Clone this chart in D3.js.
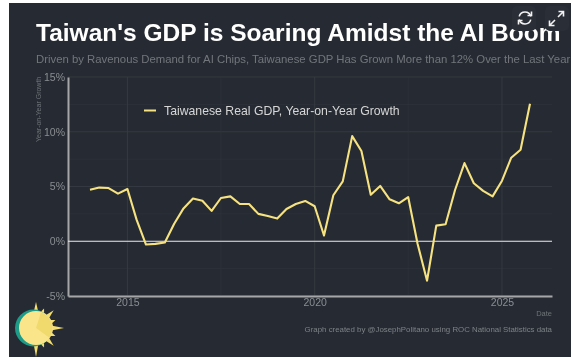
<!DOCTYPE html>
<html>
<head>
<meta charset="utf-8">
<script src="https://cdn.jsdelivr.net/npm/d3@7"></script>
<style>
html, body { margin: 0; padding: 0; background: #fff; overflow: hidden; }
svg { display: block; font-family: "Liberation Sans", Arial, sans-serif; }
svg text { filter: blur(0.3px); }
</style>
</head>
<body>
<div id="chart"></div>
<script>
const titleText = "Taiwan's GDP is Soaring Amidst the AI Boom";
const subtitleText = "Driven by Ravenous Demand for AI Chips, Taiwanese GDP Has Grown More than 12% Over the Last Year";
const seriesName = "Taiwanese Real GDP, Year-on-Year Growth";
const captionText = "Graph created by @JosephPolitano using ROC National Statistics data";

// one value per quarter, first quarter of 2014 onward
const gdpGrowth = [
    4.7, 4.9, 4.86, 4.35, 4.77, 1.95, -0.3, -0.24,
    -0.12, 1.6, 3.0, 3.9, 3.7, 2.77, 3.95, 4.1,
    3.4, 3.4, 2.5, 2.3, 2.07, 2.95, 3.4, 3.68,
    3.2, 0.52, 4.2, 5.47, 9.6, 8.24, 4.25, 5.05,
    3.83, 3.47, 4.04, -0.25, -3.6, 1.43, 1.55, 4.68,
    7.14, 5.3, 4.6, 4.1, 5.53, 7.63, 8.36, 12.55
];
const quarters = d3.utcMonth.range(new Date(Date.UTC(2014, 0, 1)), new Date(Date.UTC(2026, 0, 1)), 3);
const data = quarters.map((d, i) => ({ date: d, value: gdpGrowth[i] }));

const yMajor = [-5, 0, 5, 10, 15];
const yMinor = [-2.5, 2.5, 7.5, 12.5];
const xMajorYears = [2015, 2020, 2025];
const xMinorYears = [2017.5, 2022.5];

const width = 579, height = 361;
const panel = { left: 9, top: 3, right: 571, bottom: 357 };
const plot = { left: 68, top: 77, right: 552, bottom: 296 };

const bg = "#262b33";
const lineColor = "#f6e280";
const tickColor = "#8a8e93";

const svg = d3.select("#chart").append("svg")
    .attr("width", width)
    .attr("height", height);

svg.append("rect")
    .attr("x", panel.left)
    .attr("y", panel.top)
    .attr("width", panel.right - panel.left)
    .attr("height", panel.bottom - panel.top)
    .attr("fill", bg);

// scales, x gets 5% padding either side of the data
const yearDate = y => {
    const whole = Math.floor(y);
    return new Date(Date.UTC(whole, Math.round((y - whole) * 12), 1));
};
const first = quarters[0].getTime(), last = quarters[quarters.length - 1].getTime();
const pad = (last - first) * 0.05;
const x = d3.scaleUtc()
    .domain([new Date(first - pad), new Date(last + pad)])
    .range([plot.left, plot.right]);
const y = d3.scaleLinear()
    .domain([-5, 15])
    .range([plot.bottom, plot.top]);

// grid
const grid = svg.append("g");
grid.selectAll(".hmajor").data(yMajor).join("line")
    .attr("x1", plot.left).attr("x2", plot.right)
    .attr("y1", d => y(d)).attr("y2", d => y(d))
    .attr("stroke", "#383c44").attr("stroke-width", 0.8);
grid.selectAll(".hminor").data(yMinor).join("line")
    .attr("x1", plot.left).attr("x2", plot.right)
    .attr("y1", d => y(d)).attr("y2", d => y(d))
    .attr("stroke", "#30343c").attr("stroke-width", 0.6);
grid.selectAll(".vmajor").data(xMajorYears).join("line")
    .attr("x1", d => x(yearDate(d))).attr("x2", d => x(yearDate(d)))
    .attr("y1", plot.top).attr("y2", plot.bottom)
    .attr("stroke", "#383c44").attr("stroke-width", 0.8);
grid.selectAll(".vminor").data(xMinorYears).join("line")
    .attr("x1", d => x(yearDate(d))).attr("x2", d => x(yearDate(d)))
    .attr("y1", plot.top).attr("y2", plot.bottom)
    .attr("stroke", "#30343c").attr("stroke-width", 0.6);

// axes
const xAxis = svg.append("g")
    .attr("transform", `translate(0,${plot.bottom})`)
    .call(d3.axisBottom(x)
        .tickValues(xMajorYears.map(yearDate))
        .tickFormat(d3.utcFormat("%Y"))
        .tickSize(0)
        .tickPadding(3));
const yAxis = svg.append("g")
    .attr("transform", `translate(${plot.left},0)`)
    .call(d3.axisLeft(y)
        .tickValues(yMajor)
        .tickFormat(d => d + "%")
        .tickSize(0)
        .tickPadding(3));
[xAxis, yAxis].forEach(a => {
    a.selectAll("text").attr("fill", tickColor).attr("font-size", 10.5).attr("font-family", "Liberation Sans");
    a.select(".domain").attr("stroke", "#a5a6a8").attr("stroke-width", 2);
});

// zero line
svg.append("line")
    .attr("x1", plot.left).attr("x2", plot.right)
    .attr("y1", y(0)).attr("y2", y(0))
    .attr("stroke", "#e8e8e6").attr("stroke-width", 1.2);

// the series
const line = d3.line().x(d => x(d.date)).y(d => y(d.value));
svg.append("path")
    .datum(data)
    .attr("d", line)
    .attr("fill", "none")
    .attr("stroke", lineColor)
    .attr("stroke-width", 2.1)
    .attr("stroke-linejoin", "round");

// legend
svg.append("line")
    .attr("x1", 144).attr("x2", 156)
    .attr("y1", 110.5).attr("y2", 110.5)
    .attr("stroke", lineColor).attr("stroke-width", 2);
svg.append("text")
    .attr("x", 164).attr("y", 115)
    .attr("fill", "#d6d6d6").attr("font-size", 12.25)
    .text(seriesName);

// titles
svg.append("text")
    .attr("x", 36).attr("y", 41)
    .attr("fill", "#ffffff").attr("font-size", 24.5).attr("font-weight", "bold")
    .text(titleText);
svg.append("text")
    .attr("x", 36).attr("y", 63)
    .attr("fill", "#72767c").attr("font-size", 11.35)
    .text(subtitleText);

// axis titles and caption
svg.append("text")
    .attr("transform", "translate(41,142) rotate(-90)")
    .attr("fill", "#6e7278").attr("font-size", 7)
    .text("Year-on-Year Growth");
svg.append("text")
    .attr("x", 552).attr("y", 316)
    .attr("text-anchor", "end")
    .attr("fill", "#6e7278").attr("font-size", 7.5)
    .text("Date");
svg.append("text")
    .attr("x", 552).attr("y", 332)
    .attr("text-anchor", "end")
    .attr("fill", "#7d8187").attr("font-size", 7.87)
    .text(captionText);

// sun logo
const sun = svg.append("g").attr("transform", "translate(36,328)");
const rayAngles = d3.range(0, 181, 22.5);
const rayLength = [26, 21, 25, 21, 28, 21, 25, 21, 29];
sun.selectAll("path.ray").data(rayAngles).join("path")
    .attr("class", "ray")
    .attr("fill", "#f3de6e")
    .attr("d", (a, i) => `M-2.5,-15L0,${-rayLength[i]}L2.5,-15Z`)
    .attr("transform", a => `rotate(${a})`);
sun.append("circle").attr("cx", -2.5).attr("r", 18.5).attr("fill", "#1d9c8a");
sun.append("circle").attr("r", 17).attr("fill", "#fbe58b");
sun.append("path")
    .attr("d", d3.arc()({ innerRadius: 0, outerRadius: 16.5, startAngle: 0.3, endAngle: 2.2 }))
    .attr("fill", "#f0da6e");

// viewer buttons top right
const buttons = svg.append("g");
buttons.append("rect").attr("x", 512).attr("y", 6).attr("width", 24).attr("height", 25).attr("rx", 5).attr("fill", "#2a2e36");
buttons.append("rect").attr("x", 545).attr("y", 6).attr("width", 24).attr("height", 25).attr("rx", 5).attr("fill", "#2a2e36");
const refresh = buttons.append("g").attr("transform", "translate(525,18)")
    .attr("fill", "none").attr("stroke", "#f2f2f2").attr("stroke-width", 1.6);
refresh.append("path").attr("d", d3.arc()({ innerRadius: 6, outerRadius: 6, startAngle: -1.3, endAngle: 1.3 }));
refresh.append("path").attr("d", d3.arc()({ innerRadius: 6, outerRadius: 6, startAngle: 1.85, endAngle: 4.45 }));
refresh.append("path").attr("d", "M6.5,-6.5V-2.5H2.5M-6.5,6.5V2.5H-2.5");
const expand = buttons.append("g").attr("transform", "translate(556.5,18.5)")
    .attr("fill", "none").attr("stroke", "#f2f2f2").attr("stroke-width", 1.6);
expand.append("path").attr("d", "M1.5,-1.5L6.5,-6.5M2,-7H7V-2M-1.5,1.5L-6.5,6.5M-2,7H-7V2");
</script>
</body>
</html>
